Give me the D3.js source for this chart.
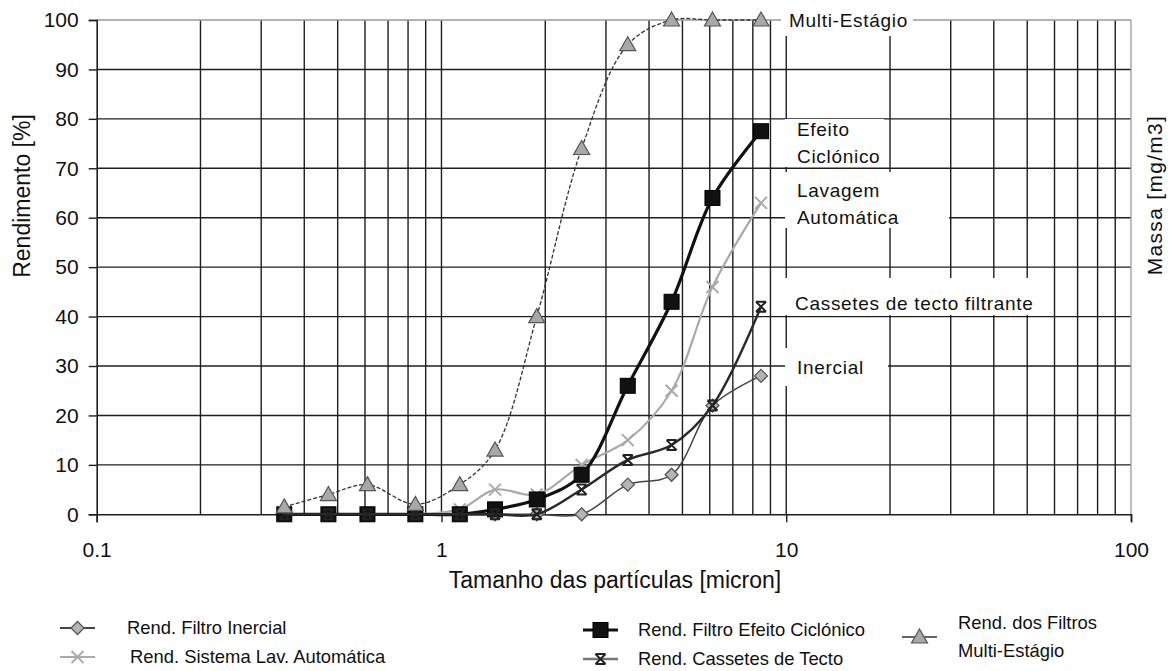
<!DOCTYPE html>
<html>
<head>
<meta charset="utf-8">
<script src="https://cdn.jsdelivr.net/npm/d3@7"></script>
<style>
  body { margin: 0; background: #fff; }
  svg { display: block; font-family: "Liberation Sans", Arial, sans-serif; }
</style>
</head>
<body>
<div id="chart"></div>
<script>
// particle sizes (micron) and efficiency of each filter [%]
const sizes = [0.35, 0.47, 0.61, 0.84, 1.13, 1.43, 1.89, 2.55, 3.47, 4.65, 6.11, 8.45];
const inercial = [0, 0, 0, 0, 0, 0, 0, 0, 6, 8, 22, 28];
const lavagem = [0, 0, 0, 0, 1, 5, 4, 10, 15, 25, 46, 63];
const efeito = [0, 0, 0, 0, 0, 1, 3, 8, 26, 43, 64, 77.5];
const cassetes = [0, 0, 0, 0, 0, 0, 0, 5, 11, 14, 22, 42];
const multi = [1.5, 4, 6, 2, 6, 13, 40, 74, 95, 100, 100, 100];

const yTicks = [0, 10, 20, 30, 40, 50, 60, 70, 80, 90, 100];
const xTicks = [0.1, 1, 10, 100];

const seriesNames = ["Rend. Filtro Inercial", "Rend. Sistema Lav. Automática",
  "Rend. Filtro Efeito Ciclónico", "Rend. Cassetes de Tecto", "Rend. dos Filtros|Multi-Estágio"];

// labels written over the grid on the right
const sideLabels = [
  { lines: ["Multi-Estágio"], box: [781, 6, 913, 36], x: 789, y: 20 },
  { lines: ["Efeito", "Ciclónico"], box: [785, 119, 884, 167], x: 797, y: 129 },
  { lines: ["Lavagem", "Automática"], box: [785, 172, 949, 228], x: 797, y: 190 },
  { lines: ["Cassetes de tecto filtrante"], box: [785, 278, 1048, 315], x: 795, y: 303 },
  { lines: ["Inercial"], box: [785, 348, 888, 386], x: 797, y: 367 }
];

const W = 1176, H = 671;
const svg = d3.select("#chart").append("svg").attr("width", W).attr("height", H);

const x = d3.scaleLog().domain([0.1, 100]).range([96.7, 1131]);
const y = d3.scaleLinear().domain([0, 100]).range([514.3, 20]);

// grid
const minor = [];
[0.1, 1, 10].forEach(d => { for (let k = 2; k <= 9; k++) minor.push(d * k); });
const grid = svg.append("g").attr("stroke", "#1e1e1e").attr("stroke-width", 1.4);
grid.selectAll(".v").data(minor.concat([1, 10])).enter().append("line")
  .attr("x1", d => x(d)).attr("x2", d => x(d)).attr("y1", y(0)).attr("y2", y(100));
grid.selectAll(".h").data(yTicks.slice(1, -1)).enter().append("line")
  .attr("x1", x(0.1)).attr("x2", x(100)).attr("y1", d => y(d)).attr("y2", d => y(d));
svg.append("line").attr("x1", x(0.1)).attr("x2", x(100)).attr("y1", y(100)).attr("y2", y(100))
  .attr("stroke", "#999").attr("stroke-width", 1.3);
svg.append("line").attr("x1", x(100)).attr("x2", x(100)).attr("y1", y(100)).attr("y2", y(0))
  .attr("stroke", "#999").attr("stroke-width", 1.3);

// axes
const yAxis = svg.append("g").attr("transform", `translate(${x(0.1)},0)`)
  .call(d3.axisLeft(y).tickValues(yTicks).tickSize(8).tickPadding(10));
const xAxis = svg.append("g").attr("transform", `translate(0,${y(0)})`)
  .call(d3.axisBottom(x).tickValues(xTicks).tickFormat(d3.format("")).tickSize(8).tickPadding(20));
[yAxis, xAxis].forEach(a => {
  a.select(".domain").attr("stroke", "#1e1e1e").attr("stroke-width", 1.6);
  a.selectAll(".tick line").attr("stroke", "#1e1e1e").attr("stroke-width", 1.4);
  a.selectAll("text").attr("font-size", 21).attr("fill", "#111")
    .attr("font-family", "'Liberation Sans', Arial, sans-serif");
});

svg.append("text").attr("x", 615).attr("y", 588).attr("text-anchor", "middle")
  .attr("font-size", 23).attr("fill", "#111").text("Tamanho das partículas [micron]");
svg.append("text").attr("transform", "translate(30,196) rotate(-90)").attr("text-anchor", "middle")
  .attr("font-size", 23).attr("fill", "#111").text("Rendimento [%]");
svg.append("text").attr("transform", "translate(1162,195) rotate(-90)").attr("text-anchor", "middle")
  .attr("font-size", 21).attr("letter-spacing", 1.3).attr("fill", "#111").text("Massa [mg/m3]");

// side labels
const side = svg.append("g");
sideLabels.forEach(l => {
  side.append("rect").attr("x", l.box[0]).attr("y", l.box[1])
    .attr("width", l.box[2] - l.box[0]).attr("height", l.box[3] - l.box[1]).attr("fill", "#fff");
  l.lines.forEach((t, i) => {
    side.append("text").attr("x", l.x).attr("y", l.y + i * 27).attr("dy", "0.35em")
      .attr("font-size", 19).attr("letter-spacing", 0.7).attr("fill", "#111").text(t);
  });
});

// markers
function marker(g, type, cx, cy) {
  if (type === "diamond") {
    g.append("path").attr("d", "M0,-6.5L6.5,0L0,6.5L-6.5,0Z")
      .attr("transform", `translate(${cx},${cy})`)
      .attr("fill", "#b4b4b4").attr("stroke", "#555").attr("stroke-width", 1.3);
  } else if (type === "cross") {
    g.append("path").attr("d", "M-6,-6L6,6M-6,6L6,-6")
      .attr("transform", `translate(${cx},${cy})`)
      .attr("stroke", "#aaa").attr("stroke-width", 2);
  } else if (type === "square") {
    g.append("rect").attr("x", cx - 7.5).attr("y", cy - 7.5).attr("width", 15).attr("height", 15)
      .attr("fill", "#111").attr("stroke", "#000").attr("stroke-width", 1);
  } else if (type === "star") {
    g.append("path").attr("d", "M-5,-5L5,5M-5,5L5,-5M-5,-5L5,-5M-5,5L5,5")
      .attr("transform", `translate(${cx},${cy})`)
      .attr("stroke", "#222").attr("stroke-width", 2);
  } else if (type === "triangle") {
    g.append("path").attr("d", "M0,-8L8,6L-8,6Z")
      .attr("transform", `translate(${cx},${cy})`)
      .attr("fill", "#a8a8a8").attr("stroke", "#555").attr("stroke-width", 1.2);
  }
}

const series = [
  { name: seriesNames[0], values: inercial, color: "#444", width: 1.5, dash: null, mark: "diamond" },
  { name: seriesNames[1], values: lavagem, color: "#aaa", width: 2.2, dash: null, mark: "cross" },
  { name: seriesNames[2], values: efeito, color: "#111", width: 3.2, dash: null, mark: "square" },
  { name: seriesNames[3], values: cassetes, color: "#2a2a2a", width: 2.4, dash: null, mark: "star" },
  { name: seriesNames[4], values: multi, color: "#333", width: 1.3, dash: "4,2", mark: "triangle" }
];

const line = d3.line()
  .x(d => x(d[0])).y(d => y(d[1]))
  .curve(d3.curveCatmullRom.alpha(0.5));

series.forEach(s => {
  const pts = sizes.map((v, i) => [v, s.values[i]]);
  const g = svg.append("g");
  g.append("path").datum(pts).attr("d", line).attr("fill", "none")
    .attr("stroke", s.color).attr("stroke-width", s.width).attr("stroke-dasharray", s.dash);
  pts.forEach(p => marker(g, s.mark, x(p[0]), y(p[1])));
});

// legend
const legendPos = [
  { sx: 60, tx: 127, y: 628 },
  { sx: 60, tx: 130, y: 657 },
  { sx: 583, tx: 638, y: 630 },
  { sx: 583, tx: 638, y: 659 },
  { sx: 902, tx: 958, y: 637 }
];
const legend = svg.append("g");
series.forEach((s, i) => {
  const p = legendPos[i];
  const lc = s.mark === "star" ? "#777" : (s.mark === "triangle" ? "#333" : s.color);
  legend.append("line").attr("x1", p.sx).attr("x2", p.sx + 35).attr("y1", p.y).attr("y2", p.y)
    .attr("stroke", lc).attr("stroke-width", s.mark === "triangle" ? 1.5 : Math.max(s.width, 2));
  marker(legend, s.mark, p.sx + 17.5, p.y);
  const lines = s.name.split("|");
  lines.forEach((t, j) => {
    legend.append("text").attr("x", p.tx).attr("y", p.y + (j - (lines.length - 1) / 2) * 28)
      .attr("dy", "0.35em").attr("font-size", 18.4).attr("fill", "#111").text(t);
  });
});
</script>
</body>
</html>
